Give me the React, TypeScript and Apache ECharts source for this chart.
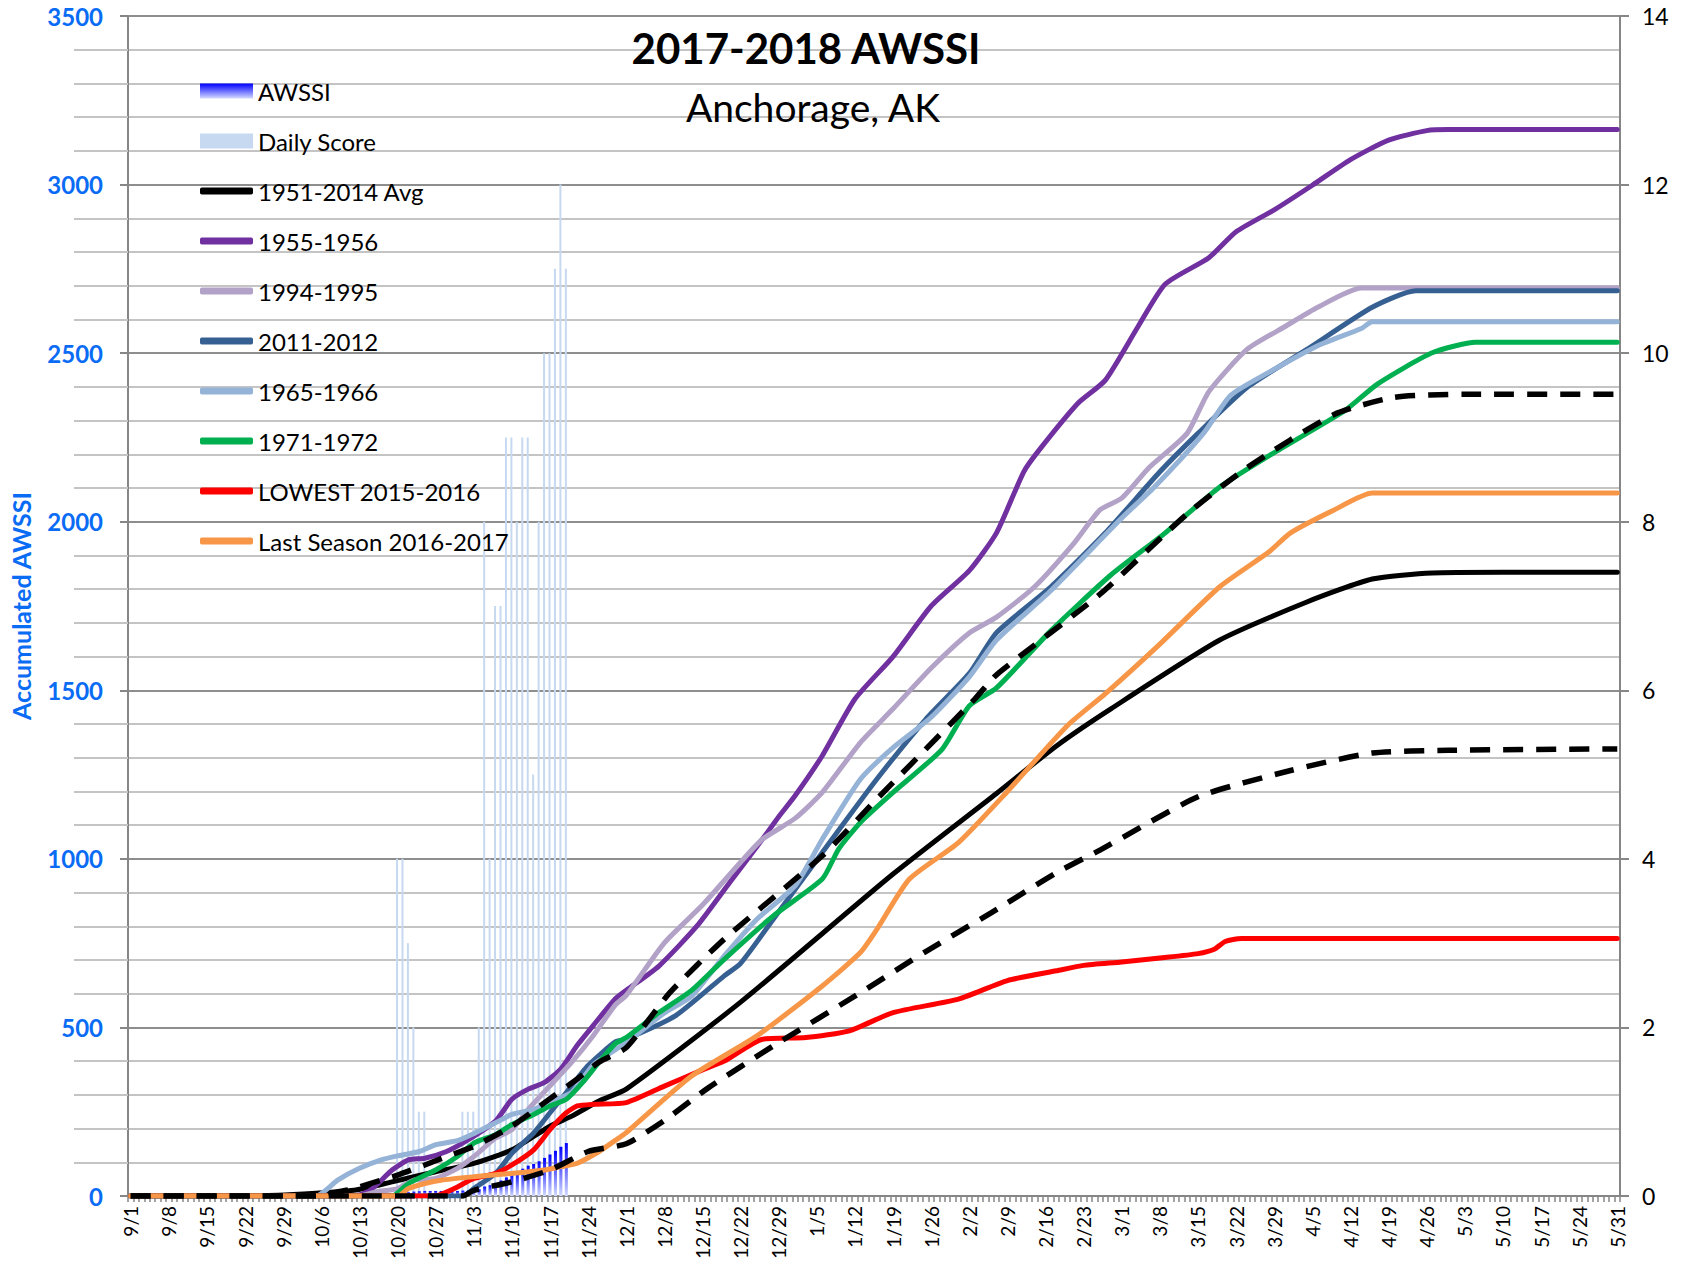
import React, { useEffect, useRef } from "react";
import * as echarts from "echarts";

// ---- categories: season days 9/1 .. 5/31 (leap-year template) ----
const MONTH_LENGTHS: [number, number][] = [
  [9, 30], [10, 31], [11, 30], [12, 31], [1, 31], [2, 29], [3, 31], [4, 30], [5, 31],
];
const categories: string[] = [];
for (const [m, n] of MONTH_LENGTHS) for (let d = 1; d <= n; d++) categories.push(`${m}/${d}`);

// ---- 2017-2018 season bars ----
const dailyScore: [string, number][] = [
  ["10/20", 4], ["10/21", 4], ["10/22", 3], ["10/23", 2], ["10/24", 1], ["10/25", 1],
  ["11/1", 1], ["11/2", 1], ["11/3", 1], ["11/4", 2], ["11/5", 8], ["11/6", 4],
  ["11/7", 7], ["11/8", 7], ["11/9", 9], ["11/10", 9], ["11/11", 8], ["11/12", 9],
  ["11/13", 9], ["11/14", 5], ["11/15", 8], ["11/16", 10], ["11/17", 10], ["11/18", 11],
  ["11/19", 12], ["11/20", 11],
];
const awssi: [string, number][] = [
  ["10/20", 4], ["10/21", 8], ["10/22", 11], ["10/23", 13], ["10/24", 14], ["10/25", 15],
  ["10/26", 15], ["10/27", 15], ["10/28", 15], ["10/29", 15], ["10/30", 15], ["10/31", 15],
  ["11/1", 16], ["11/2", 17], ["11/3", 18], ["11/4", 20], ["11/5", 28], ["11/6", 32],
  ["11/7", 39], ["11/8", 46], ["11/9", 55], ["11/10", 64], ["11/11", 72], ["11/12", 81],
  ["11/13", 90], ["11/14", 95], ["11/15", 103], ["11/16", 113], ["11/17", 123],
  ["11/18", 134], ["11/19", 146], ["11/20", 157],
];

// ---- comparison seasons (accumulated AWSSI) ----
const avg5114: [string, number][] = [
  ["9/1", 0], ["9/28", 2], ["10/12", 17], ["10/19", 42], ["10/27", 72], ["11/3", 97],
  ["11/10", 137], ["11/17", 207], ["11/21", 237], ["11/26", 282], ["12/1", 317],
  ["12/22", 575], ["1/19", 955], ["2/7", 1194], ["2/18", 1335], ["2/28", 1445],
  ["3/19", 1649], ["4/4", 1762], ["4/16", 1830], ["4/27", 1848], ["5/10", 1850], ["5/31", 1850],
];
const s1955: [string, number][] = [
  ["9/1", 0], ["10/12", 0], ["10/15", 17], ["10/19", 77], ["10/22", 107], ["10/25", 112],
  ["10/29", 132], ["11/2", 167], ["11/7", 222], ["11/10", 287], ["11/13", 317], ["11/16", 337],
  ["11/19", 377], ["11/22", 447], ["11/25", 507], ["11/29", 585], ["12/1", 610], ["12/7", 682],
  ["12/14", 801], ["12/20", 930], ["12/26", 1058], ["12/29", 1125], ["1/1", 1187], ["1/6", 1306],
  ["1/12", 1474], ["1/19", 1600], ["1/26", 1750], ["2/2", 1855], ["2/7", 1967], ["2/12", 2148],
  ["2/15", 2216], ["2/22", 2352], ["2/27", 2420], ["3/4", 2579], ["3/9", 2705], ["3/17", 2783],
  ["3/22", 2860], ["3/29", 2925], ["4/5", 2998], ["4/12", 3074], ["4/19", 3132], ["4/26", 3160],
  ["4/30", 3163], ["5/31", 3163],
];
const s1994: [string, number][] = [
  ["9/1", 0], ["10/13", 0], ["10/16", 12], ["10/20", 22], ["10/23", 47], ["10/27", 52],
  ["10/31", 82], ["11/3", 117], ["11/7", 172], ["11/10", 197], ["11/13", 257], ["11/17", 327],
  ["11/21", 397], ["11/25", 477], ["11/29", 567], ["12/1", 595], ["12/8", 751], ["12/15", 863],
  ["12/22", 990], ["12/26", 1058], ["1/1", 1120], ["1/6", 1197], ["1/13", 1345], ["1/19", 1445],
  ["1/26", 1566], ["2/2", 1670], ["2/7", 1717], ["2/14", 1807], ["2/21", 1932], ["2/26", 2035],
  ["3/1", 2070], ["3/6", 2160], ["3/13", 2262], ["3/17", 2386], ["3/24", 2511], ["3/31", 2579],
  ["4/6", 2636], ["4/14", 2693], ["5/31", 2693],
];
const s2011: [string, number][] = [
  ["9/1", 0], ["11/1", 0], ["11/3", 22], ["11/7", 67], ["11/10", 127], ["11/14", 187],
  ["11/17", 247], ["11/20", 307], ["11/24", 387], ["11/29", 457], ["12/1", 465], ["12/10", 534],
  ["12/19", 653], ["12/22", 690], ["12/28", 821], ["1/6", 1019], ["1/16", 1236], ["1/25", 1414],
  ["2/2", 1550], ["2/7", 1671], ["2/17", 1807], ["2/27", 1967], ["3/8", 2148], ["3/15", 2262],
  ["3/24", 2398], ["4/4", 2511], ["4/16", 2636], ["4/24", 2685], ["5/31", 2685],
];
const s1965: [string, number][] = [
  ["9/1", 0], ["10/5", 0], ["10/9", 47], ["10/13", 82], ["10/17", 107], ["10/20", 119],
  ["10/24", 132], ["10/27", 152], ["10/31", 164], ["11/3", 185], ["11/7", 217], ["11/10", 242],
  ["11/14", 257], ["11/17", 279], ["11/21", 307], ["11/25", 390], ["12/1", 455], ["12/8", 543],
  ["12/13", 593], ["12/19", 712], ["12/25", 821], ["1/1", 920], ["1/6", 1058], ["1/13", 1236],
  ["1/19", 1330], ["1/26", 1420], ["2/2", 1540], ["2/7", 1649], ["2/17", 1796], ["3/1", 2011],
  ["3/7", 2103], ["3/16", 2262], ["3/21", 2375], ["3/28", 2443], ["4/6", 2522], ["4/14", 2573],
  ["4/16", 2593], ["5/31", 2593],
];
const s1971: [string, number][] = [
  ["9/1", 0], ["10/19", 0], ["10/22", 37], ["10/27", 77], ["10/31", 117], ["11/3", 157],
  ["11/7", 182], ["11/10", 212], ["11/14", 242], ["11/17", 267], ["11/20", 287], ["11/23", 337],
  ["11/26", 397], ["11/29", 452], ["12/1", 470], ["12/7", 544], ["12/13", 610], ["12/19", 702],
  ["12/28", 831], ["1/6", 940], ["1/9", 1029], ["1/13", 1108], ["1/19", 1197], ["1/28", 1325],
  ["2/2", 1454], ["2/7", 1507], ["2/17", 1677], ["2/28", 1842], ["3/9", 1967], ["3/19", 2103],
  ["3/29", 2205], ["4/11", 2330], ["4/17", 2409], ["4/27", 2501], ["5/5", 2532], ["5/31", 2532],
];
const s2015: [string, number][] = [
  ["9/1", 0], ["10/27", 0], ["10/29", 12], ["10/31", 27], ["11/3", 52], ["11/7", 67],
  ["11/10", 92], ["11/14", 137], ["11/17", 197], ["11/20", 247], ["11/22", 267], ["11/25", 272],
  ["12/1", 277], ["12/8", 326], ["12/15", 374], ["12/19", 400], ["12/26", 465], ["1/3", 470],
  ["1/11", 490], ["1/19", 544], ["1/31", 584], ["2/9", 639], ["2/18", 668], ["2/23", 684],
  ["3/1", 694], ["3/8", 706], ["3/15", 719], ["3/18", 732], ["3/20", 755], ["3/23", 764],
  ["5/31", 764],
];
const s2016: [string, number][] = [
  ["9/1", 0], ["10/20", 0], ["10/22", 22], ["10/25", 37], ["10/28", 47], ["11/3", 57],
  ["11/10", 67], ["11/16", 77], ["11/19", 87], ["11/22", 97], ["11/26", 132], ["11/29", 165],
  ["12/1", 188], ["12/13", 356], ["12/25", 475], ["1/6", 623], ["1/13", 722], ["1/16", 790],
  ["1/22", 940], ["1/31", 1048], ["2/9", 1200], ["2/20", 1395], ["2/27", 1490], ["3/8", 1637],
  ["3/19", 1807], ["3/28", 1910], ["4/1", 1967], ["4/9", 2035], ["4/16", 2085], ["5/31", 2085],
];
const stdHigh: [string, number][] = [
  ["9/1", 0], ["10/6", 0], ["10/9", 12], ["10/12", 22], ["10/17", 47], ["10/20", 62],
  ["10/25", 92], ["10/29", 117], ["11/3", 147], ["11/10", 207], ["11/16", 277], ["11/22", 347],
  ["11/26", 397], ["12/1", 440], ["12/9", 603], ["12/19", 762], ["1/6", 1009], ["1/16", 1177],
  ["2/3", 1474], ["2/7", 1546], ["2/26", 1785], ["3/13", 2023], ["3/24", 2160], ["4/9", 2318],
  ["4/20", 2369], ["5/3", 2378], ["5/31", 2378],
];
const stdLow: [string, number][] = [
  ["9/1", 0], ["11/1", 0], ["11/3", 17], ["11/10", 42], ["11/17", 77], ["11/24", 132],
  ["12/1", 155], ["12/8", 224], ["12/16", 320], ["12/28", 445], ["1/13", 603], ["1/25", 725],
  ["2/6", 840], ["2/18", 959], ["2/26", 1026], ["3/15", 1184], ["4/1", 1262], ["4/16", 1314],
  ["4/30", 1322], ["5/31", 1326],
];

const leftTicks = { min: 0, max: 3500, interval: 500 };
const rightTicks = { min: 0, max: 14, interval: 2 };

const FONT = "Lato";
const BLUE_LABEL = "#0A6CF5";
const AXIS_GRAY = "#868686";

const toPairs = (arr: [string, number][]) =>
  arr.map(([d, v]) => [categories.indexOf(d), v]);

const lineSeries = (
  name: string,
  data: [string, number][],
  color: string,
  dashed = false
) => ({
  name,
  type: "line",
  yAxisIndex: 0,
  data: toPairs(data),
  showSymbol: false,
  symbol: "none",
  smooth: 0.2,
  itemStyle: { color },
  lineStyle: dashed
    ? { color, width: 5.5, type: [20, 13] }
    : { color, width: 5, cap: "round", join: "round" },
  z: 3,
});

export default function App() {
  const ref = useRef<HTMLDivElement>(null);
  useEffect(() => {
    if (!ref.current) return;
    const chart = echarts.init(ref.current, undefined, { renderer: "svg" });
    const legendText = { fontFamily: FONT, fontSize: 24, color: "#000", lineHeight: 24 };
    const option = {
      animation: false,
      textStyle: { fontFamily: FONT },
      grid: { left: 122, right: 70, top: 16, bottom: 69, containLabel: false },
      legend: [
        {
          data: ["AWSSI", "Daily Score"],
          orient: "vertical",
          left: 195,
          top: 74,
          itemWidth: 53,
          itemHeight: 15,
          itemGap: 26,
          icon: "rect",
          textStyle: legendText,
          selectedMode: false,
        },
        {
          data: [
            "1951-2014 Avg", "1955-1956", "1994-1995", "2011-2012",
            "1965-1966", "1971-1972", "LOWEST 2015-2016", "Last Season 2016-2017",
          ],
          orient: "vertical",
          left: 195,
          top: 174,
          itemWidth: 53,
          itemHeight: 7,
          itemGap: 26,
          icon: "roundRect",
          textStyle: legendText,
          selectedMode: false,
        },
      ],
      graphic: [
        {
          type: "text",
          x: 806,
          y: 48,
          z: 10,
          style: {
            text: "2017-2018 AWSSI",
            font: `bold 42px ${FONT}`,
            fill: "#000",
            align: "center",
            verticalAlign: "middle",
          },
        },
        {
          type: "text",
          x: 813,
          y: 107,
          z: 10,
          style: {
            text: "Anchorage, AK",
            font: `39px ${FONT}`,
            fill: "#000",
            align: "center",
            verticalAlign: "middle",
          },
        },
      ],
      xAxis: {
        type: "category",
        data: categories,
        boundaryGap: true,
        axisLine: { lineStyle: { color: AXIS_GRAY, width: 2 } },
        axisTick: { show: true, interval: 0, length: 6, lineStyle: { color: AXIS_GRAY, width: 1.5 } },
        axisLabel: {
          interval: 6,
          rotate: 90,
          fontSize: 19,
          fontFamily: FONT,
          color: "#000",
          margin: 10,
        },
        splitLine: { show: false },
      },
      yAxis: [
        {
          type: "value",
          position: "left",
          ...leftTicks,
          name: "Accumulated AWSSI",
          nameLocation: "middle",
          nameGap: 95,
          nameTextStyle: { color: BLUE_LABEL, fontSize: 25, fontWeight: "bold", fontFamily: FONT },
          axisLine: { show: true, lineStyle: { color: AXIS_GRAY, width: 2 } },
          axisTick: { show: true, length: 8, lineStyle: { color: AXIS_GRAY, width: 2 } },
          minorTick: { show: true, splitNumber: 5, length: 54, lineStyle: { color: "#c4c4c4", width: 2 } },
          axisLabel: {
            color: BLUE_LABEL,
            fontSize: 24,
            fontWeight: "bold",
            fontFamily: FONT,
            margin: 25,
            formatter: (v: number) => String(v),
          },
          splitLine: { show: true, lineStyle: { color: "#8e8e8e", width: 2 } },
          minorSplitLine: { show: true, lineStyle: { color: "#c4c4c4", width: 2 } },
        },
        {
          type: "value",
          position: "right",
          ...rightTicks,
          axisLine: { show: true, lineStyle: { color: AXIS_GRAY, width: 2 } },
          axisTick: { show: true, length: 9, lineStyle: { color: AXIS_GRAY, width: 2 } },
          axisLabel: { color: "#000", fontSize: 23, fontFamily: FONT, margin: 22 },
          splitLine: { show: false },
        },
      ],
      series: [
        {
          name: "Daily Score",
          type: "bar",
          yAxisIndex: 1,
          data: toPairs(dailyScore),
          barWidth: 2,
          barGap: "-100%",
          itemStyle: { color: "#C6D9F1" },
          z: 1,
        },
        {
          name: "AWSSI",
          type: "bar",
          yAxisIndex: 0,
          data: toPairs(awssi),
          barWidth: 3,
          barGap: "-100%",
          itemStyle: {
            color: new echarts.graphic.LinearGradient(0, 0, 0, 1, [
              { offset: 0, color: "#0000FF" },
              { offset: 1, color: "#D4DBFF" },
            ]),
          },
          z: 2,
        },
        lineSeries("1951-2014 Avg", avg5114, "#000000"),
        lineSeries("1955-1956", s1955, "#7030A0"),
        lineSeries("1994-1995", s1994, "#B3A2C7"),
        lineSeries("2011-2012", s2011, "#376092"),
        lineSeries("1965-1966", s1965, "#95B3D7"),
        lineSeries("1971-1972", s1971, "#00B050"),
        lineSeries("LOWEST 2015-2016", s2015, "#FF0000"),
        lineSeries("Last Season 2016-2017", s2016, "#F79646"),
        lineSeries("Avg + 1 Std Dev", stdHigh, "#000000", true),
        lineSeries("Avg - 1 Std Dev", stdLow, "#000000", true),
      ],
    };
    chart.setOption(option as any);
    return () => chart.dispose();
  }, []);
  return (
    <div
      ref={ref}
      style={{ position: "absolute", left: 0, top: 0, width: 1690, height: 1265, background: "#fff" }}
    />
  );
}
